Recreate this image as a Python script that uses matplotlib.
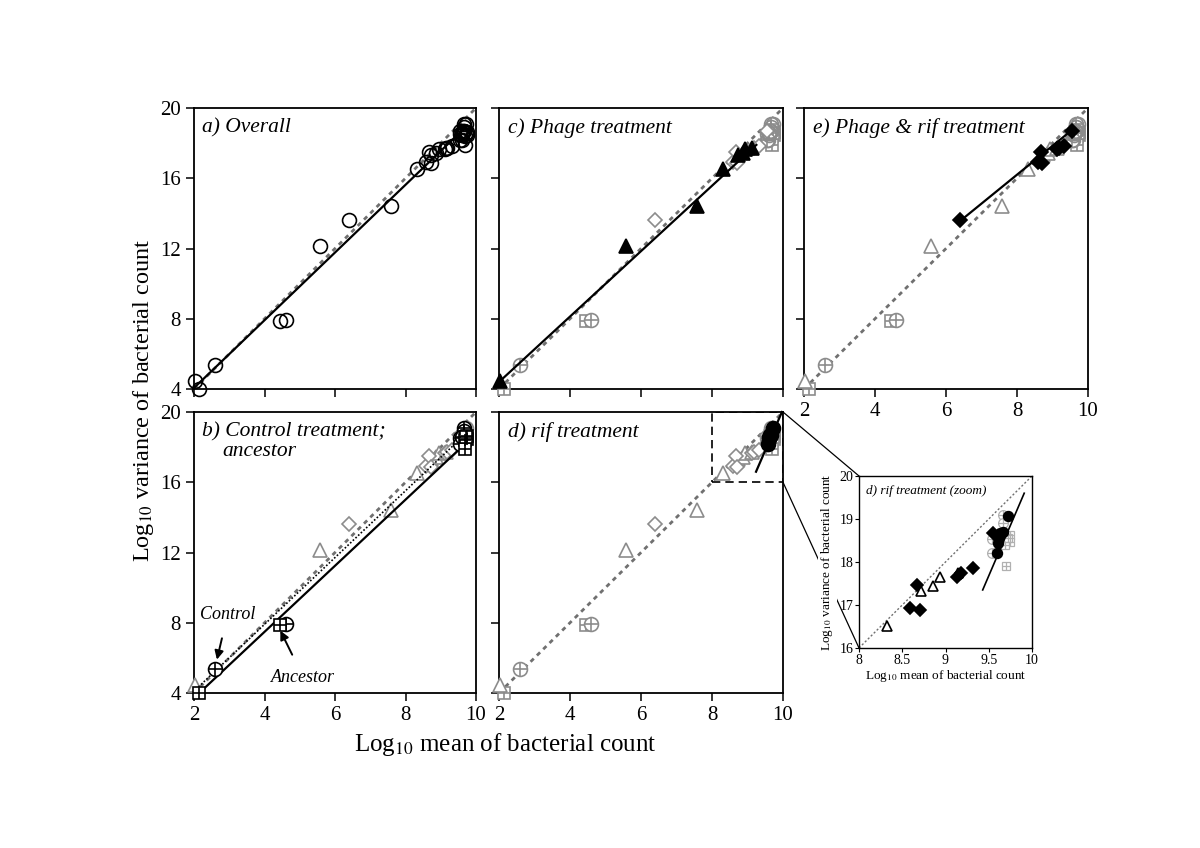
import numpy as np
import matplotlib.pyplot as plt
from matplotlib.patches import Rectangle, ConnectionPatch

plt.rcParams['font.family'] = ['Liberation Serif', 'DejaVu Serif']
plt.rcParams['mathtext.fontset'] = 'stix'

# log10 mean / log10 variance per treatment
anc_x = [2.15, 4.45, 9.75, 9.75, 9.69, 9.70, 9.72]
anc_y = [4.00, 7.90, 18.63, 18.47, 18.40, 17.90, 18.55]
ctrl_x = [2.60, 4.60, 9.66, 9.66, 9.54, 9.54, 9.60]
ctrl_y = [5.35, 7.95, 19.09, 18.90, 18.53, 18.20, 18.60]
phage_x = [2.02, 5.57, 7.59, 8.32, 8.72, 8.86, 8.94, 9.14]
phage_y = [4.45, 12.15, 14.40, 16.51, 17.33, 17.44, 17.65, 17.74]
rif_x = [9.59, 9.61, 9.61, 9.63, 9.66, 9.72]
rif_y = [18.20, 18.44, 18.56, 18.67, 18.70, 19.07]
pr_x = [6.40, 8.59, 8.67, 8.71, 9.13, 9.18, 9.32, 9.55]
pr_y = [13.60, 16.93, 17.47, 16.88, 17.65, 17.74, 17.85, 18.68]

# fitted lines (end points)
ref_x = [2, 10]          # slope 2 reference line
ref_y = [4, 20]
overall_fit_x = [2.0, 9.75]
overall_fit_y = [4.06, 19.0]
anc_fit_x = [2.15, 9.75]
anc_fit_y = [4.0, 18.3]
ctrl_fit_x = [2.05, 9.7]
ctrl_fit_y = [4.2, 18.75]
phage_fit_x = [2.0, 9.25]
phage_fit_y = [4.4, 17.9]
pr_fit_x = [6.40, 9.55]
pr_fit_y = [13.57, 18.75]
rif_fit_x = [9.24, 9.97]
rif_fit_y = [16.6, 20.0]
rif_fit_zoom_x = [9.43, 9.91]
rif_fit_zoom_y = [17.35, 19.6]

zoom_x = [8, 10]
zoom_y = [16, 20]

GREY = '#8c8c8c'
LGREY = '#b0b0b0'
W, H = 1200, 848


def box(l, t, r, b):
    return [l / W, 1 - b / H, (r - l) / W, (b - t) / H]


def pts(ax, x, y, kind, color, ms=10, filled=False, lw=1.2, z=3, clip=False):
    kw = dict(ls='none', clip_on=clip, zorder=z, mew=lw, color=color)
    face = color if filled else 'white'
    if kind == 'anc':
        ax.plot(x, y, marker='s', ms=ms * 0.85, mfc=face, mec=color, **kw)
        ax.plot(x, y, marker='+', ms=ms * 0.85, mec=color, **kw)
    elif kind == 'ctrl':
        ax.plot(x, y, marker='o', ms=ms, mfc=face, mec=color, **kw)
        ax.plot(x, y, marker='+', ms=ms, mec=color, **kw)
    elif kind == 'phage':
        ax.plot(x, y, marker='^', ms=ms, mfc=face, mec=color, **kw)
    elif kind == 'rif':
        ax.plot(x, y, marker='o', ms=ms, mfc=face if filled else 'none', mec=color, **kw)
    elif kind == 'pr':
        ax.plot(x, y, marker='D', ms=ms * 0.75, mfc=face, mec=color, **kw)


groups = {
    'anc': (anc_x, anc_y),
    'ctrl': (ctrl_x, ctrl_y),
    'phage': (phage_x, phage_y),
    'rif': (rif_x, rif_y),
    'pr': (pr_x, pr_y),
}


def style(ax, xlab, ylab):
    ax.set_xlim(2, 10)
    ax.set_ylim(4, 20)
    ax.set_xticks([2, 4, 6, 8, 10])
    ax.set_yticks([4, 8, 12, 16, 20])
    ax.tick_params(direction='out', length=6, width=1.1, labelsize=15,
                   labelbottom=xlab, labelleft=ylab)
    for s in ax.spines.values():
        s.set_linewidth(1.3)


def ref_line(ax):
    ax.plot(ref_x, ref_y, color='#707070', lw=2.0, ls=(0, (1.6, 1.6)), zorder=2)


fig = plt.figure(figsize=(12, 8.48), dpi=100)

ax_a = fig.add_axes(box(194, 108, 476, 389))
ax_b = fig.add_axes(box(194, 412, 476, 693))
ax_c = fig.add_axes(box(499, 108, 783, 389))
ax_d = fig.add_axes(box(499, 412, 783, 693))
ax_e = fig.add_axes(box(804, 108, 1088, 389))
ax_in = fig.add_axes(box(859, 476, 1032, 648))

# a) overall
style(ax_a, False, True)
ref_line(ax_a)
for k, (x, y) in groups.items():
    ax_a.plot(x, y, marker='o', ms=10, mfc='none', mec='black', mew=1.2,
              ls='none', clip_on=False, zorder=3)
ax_a.plot(overall_fit_x, overall_fit_y, color='black', lw=1.6, zorder=4)
ax_a.text(0.03, 0.965, 'a) Overall', transform=ax_a.transAxes, fontsize=15.5,
          style='italic', va='top')

# b) control; ancestor
style(ax_b, True, True)
for k in ['phage', 'pr', 'rif']:
    pts(ax_b, *groups[k], k, GREY)
ref_line(ax_b)
ax_b.plot(ctrl_fit_x, ctrl_fit_y, color='black', lw=1.2, ls=(0, (1, 1.2)), zorder=4)
ax_b.plot(anc_fit_x, anc_fit_y, color='black', lw=1.6, zorder=4)
pts(ax_b, ctrl_x, ctrl_y, 'ctrl', 'black', z=5)
pts(ax_b, anc_x, anc_y, 'anc', 'black', z=5)
ax_b.text(0.03, 0.965, 'b) Control treatment;', transform=ax_b.transAxes,
          fontsize=15.5, style='italic', va='top')
ax_b.text(0.1, 0.895, 'ancestor', transform=ax_b.transAxes,
          fontsize=15.5, style='italic', va='top')
ax_b.annotate('Control', xy=(ctrl_x[0] + 0.05, ctrl_y[0] + 0.55), xytext=(2.95, 8.45),
              fontsize=13, style='italic', ha='center', va='center',
              arrowprops=dict(arrowstyle='-|>', color='black', lw=1.4,
                              shrinkA=9, shrinkB=0, mutation_scale=13))
ax_b.annotate('Ancestor', xy=(anc_x[1], anc_y[1] - 0.35), xytext=(5.1, 4.9),
              fontsize=13, style='italic', ha='center', va='center',
              arrowprops=dict(arrowstyle='-|>', color='black', lw=1.4,
                              shrinkA=9, shrinkB=0, mutation_scale=13))

# c) phage
style(ax_c, False, False)
for k in ['anc', 'ctrl', 'rif', 'pr']:
    pts(ax_c, *groups[k], k, GREY)
ref_line(ax_c)
ax_c.plot(phage_fit_x, phage_fit_y, color='black', lw=1.6, zorder=4)
pts(ax_c, phage_x, phage_y, 'phage', 'black', filled=True, z=5)
ax_c.text(0.03, 0.965, 'c) Phage treatment', transform=ax_c.transAxes,
          fontsize=15.5, style='italic', va='top')

# d) rif
style(ax_d, True, False)
for k in ['anc', 'ctrl', 'phage', 'pr']:
    pts(ax_d, *groups[k], k, GREY)
ref_line(ax_d)
pts(ax_d, rif_x, rif_y, 'rif', 'black', filled=True, z=5)
ax_d.plot(rif_fit_x, rif_fit_y, color='black', lw=1.6, zorder=6, clip_on=False)
ax_d.add_patch(Rectangle((zoom_x[0], zoom_y[0]), zoom_x[1] - zoom_x[0],
                         zoom_y[1] - zoom_y[0], fill=False, ls=(0, (5, 3)),
                         lw=1.2, color='black', zorder=7))
ax_d.text(0.03, 0.965, 'd) rif treatment', transform=ax_d.transAxes,
          fontsize=15.5, style='italic', va='top')

# e) phage & rif
style(ax_e, True, False)
for k in ['anc', 'ctrl', 'phage', 'rif']:
    pts(ax_e, *groups[k], k, GREY)
ref_line(ax_e)
ax_e.plot(pr_fit_x, pr_fit_y, color='black', lw=1.6, zorder=4)
pts(ax_e, pr_x, pr_y, 'pr', 'black', filled=True, z=5)
ax_e.text(0.03, 0.965, 'e) Phage & rif treatment', transform=ax_e.transAxes,
          fontsize=15.5, style='italic', va='top')

# inset: zoom of d)
ax_in.set_zorder(5)
ax_in.set_xlim(*zoom_x)
ax_in.set_ylim(*zoom_y)
ax_in.set_xticks([8, 8.5, 9, 9.5, 10])
ax_in.set_xticklabels(['8', '8.5', '9', '9.5', '10'])
ax_in.set_yticks([16, 17, 18, 19, 20])
ax_in.tick_params(direction='out', length=3, width=0.8, labelsize=10, pad=1)
for s in ax_in.spines.values():
    s.set_linewidth(1.0)
ax_in.plot(zoom_x, [2 * v for v in zoom_x], color='#707070', lw=1.0,
           ls=(0, (1.5, 1.5)), zorder=2)
pts(ax_in, anc_x, anc_y, 'anc', LGREY, ms=7, lw=0.9, clip=True)
pts(ax_in, ctrl_x, ctrl_y, 'ctrl', LGREY, ms=7, lw=0.9, clip=True)
pts(ax_in, phage_x, phage_y, 'phage', 'black', ms=7, lw=1.2, clip=True)
pts(ax_in, pr_x, pr_y, 'pr', 'black', ms=7.5, filled=True, clip=True)
pts(ax_in, rif_x, rif_y, 'rif', 'black', ms=7, filled=True, clip=True)
ax_in.plot(rif_fit_zoom_x, rif_fit_zoom_y, color='black', lw=1.2, zorder=6)
ax_in.text(0.04, 0.95, 'd) rif treatment (zoom)', transform=ax_in.transAxes,
           fontsize=9.5, style='italic', va='top')
ax_in.set_xlabel('Log$_{10}$ mean of bacterial count', fontsize=9.5, labelpad=1)
ax_in.set_ylabel('Log$_{10}$ variance of bacterial count', fontsize=9.5, labelpad=3,
                 bbox=dict(facecolor='white', edgecolor='none', pad=1))

# connectors between the dashed box and the inset
for yy in zoom_y:
    con = ConnectionPatch(xyA=(zoom_x[1], yy), coordsA=ax_d.transData,
                          xyB=(zoom_x[0], yy), coordsB=ax_in.transData,
                          color='black', lw=0.9, zorder=2)
    fig.add_artist(con)

fig.text(143 / W, 1 - 400 / H, 'Log$_{10}$ variance of bacterial count',
         rotation=90, fontsize=17.5, ha='center', va='center')
fig.text(505 / W, 1 - 745 / H, 'Log$_{10}$ mean of bacterial count',
         fontsize=18, ha='center', va='center')

fig.savefig('out.png', dpi=100, facecolor='white')
